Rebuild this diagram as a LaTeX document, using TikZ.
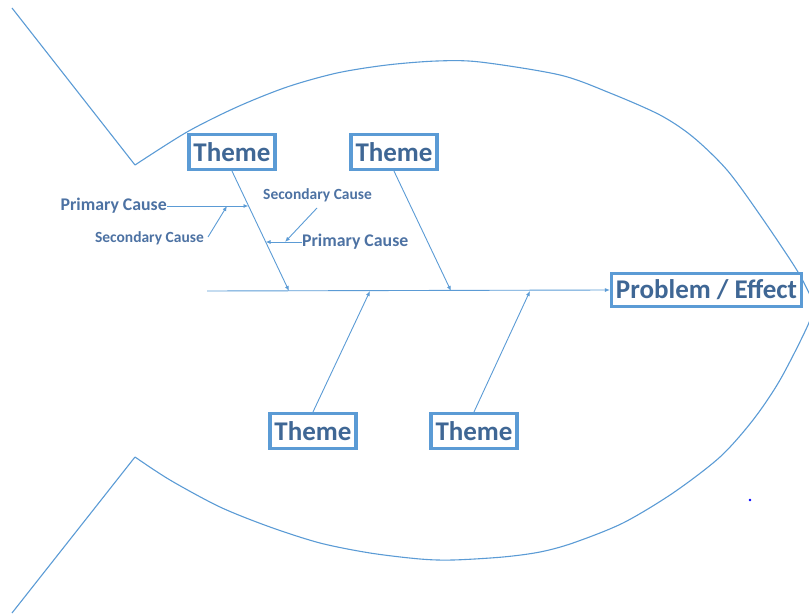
\documentclass[tikz,border=0pt]{standalone}
\usepackage{fontspec}
\setmainfont{Carlito}
\usetikzlibrary{arrows.meta}
\definecolor{fishline}{HTML}{5B9BD5}
\definecolor{boxtext}{HTML}{3F6795}
\definecolor{causetext}{HTML}{4D72A3}
\begin{document}
\begin{tikzpicture}[x=1pt,y=-1pt,
  fish/.style={draw=fishline,line width=1.1pt},
  bone/.style={draw=fishline,line width=0.9pt,-{Latex[length=5pt,width=4pt]}},
  themebox/.style={draw=fishline,line width=3.2pt,fill=white,text=boxtext,
    font=\fontsize{27}{30}\selectfont\bfseries,inner sep=0pt,
    minimum width=86pt,minimum height=35pt},
  effectbox/.style={themebox,minimum width=190pt,minimum height=33pt},
  primary/.style={text=causetext,font=\fontsize{17.8}{20}\selectfont\bfseries,inner sep=0pt},
  secondary/.style={text=causetext,font=\fontsize{15.5}{18}\selectfont\bfseries,inner sep=0pt}]
\useasboundingbox (0,0) rectangle (809,615);
\begin{scope}
\clip (0,0) rectangle (809,615);
% fish outline: tail and body
\draw[fish] (12,8) -- (135,165);
\draw[fish] (12,613) -- (135,457);
\draw[fish] plot[smooth,tension=0.5] coordinates {(135,165) (187,132) (237,107) (287,87) (337,73) (387,65) (437,61) (480,62) (560,75) (610,93) (660,115) (693,137) (727,170) (760,215) (798,272) (816,308)};
\draw[fish] plot[smooth,tension=0.5] coordinates {(135,457) (170,480) (220,507) (270,527) (320,543) (370,553) (420,559) (453,560) (503,557) (540,552) (573,543) (623,523) (673,493) (720,457) (753,420) (780,380) (808,325) (818,295)};
\end{scope}

% boxes
\node[themebox] (t1) at (232,152) {Theme};
\node[themebox] (t2) at (394,152) {Theme};
\node[themebox] (t3) at (313,431) {Theme};
\node[themebox] (t4) at (474,431) {Theme};
\node[effectbox] (pe) at (706.5,290) {Problem / Effect};

% spine and bone ends
\coordinate (tail) at (207,291);
\coordinate (s1) at (289,291);
\coordinate (s2) at (451,291);
\coordinate (s3) at (370,291);
\coordinate (s4) at (530,291);
\draw[bone] (tail) -- (pe.west);
\draw[bone] (t1.south) -- (s1);
\draw[bone] (t2.south) -- (s2);
\draw[bone] (t3.north) -- (s3);
\draw[bone] (t4.north) -- (s4);

% causes on the first bone
\coordinate (b1a) at (248.5,206);
\coordinate (b1b) at (265.5,242);
\coordinate (pa) at (227,206);
\coordinate (pb) at (285,242);
\node[primary,anchor=east] (pc1) at (167,206) {Primary Cause};
\node[primary,anchor=west] (pc2) at (302,242) {Primary Cause};
\node[secondary,anchor=east] (sc1) at (204,238) {Secondary Cause};
\node[secondary,anchor=west] (sc2) at (263,195) {Secondary Cause};
\draw[bone] (pc1.east) -- (b1a);
\draw[bone] (pc2.west) -- (b1b);
\coordinate (sc1e) at (208,237);
\coordinate (sc2e) at (317,208);
\draw[bone] (sc1e) -- (pa);
\draw[bone] (sc2e) -- (pb);

% stray dot
\fill[blue] (750,500) circle (1.3pt);
\end{tikzpicture}
\end{document}
